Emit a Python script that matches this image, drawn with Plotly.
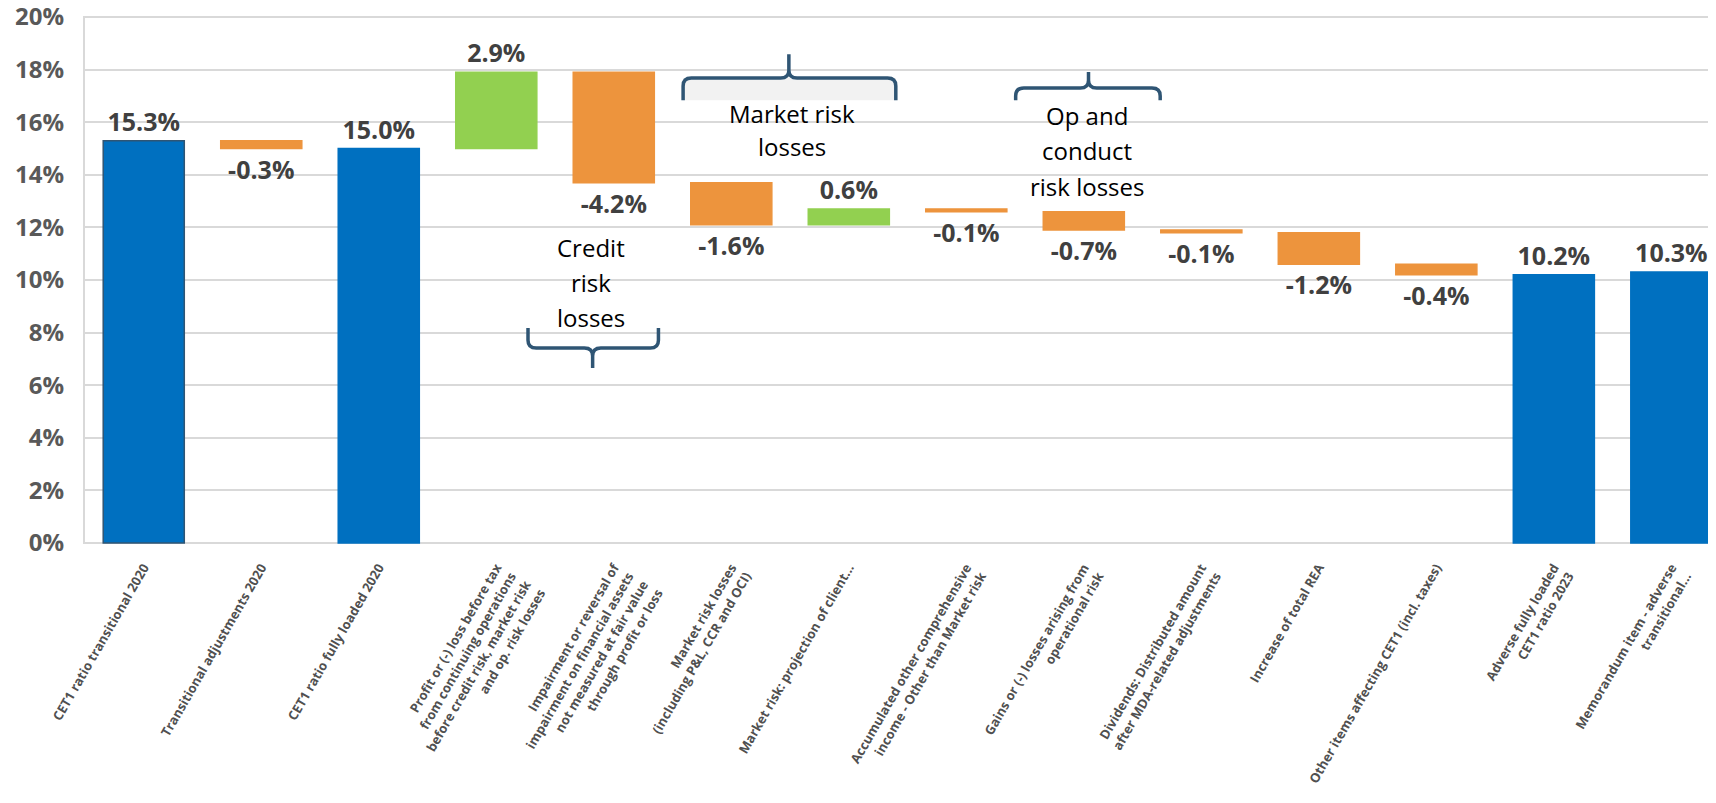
import plotly.graph_objects as go

categories = [
    "CET1 ratio transitional 2020",
    "Transitional adjustments 2020",
    "CET1 ratio fully loaded 2020",
    "Profit or (-) loss before tax<br>from continuing operations<br>before credit risk, market risk<br>and op. risk losses",
    "Impairment or reversal of<br>impairment on financial assets<br>not measured at fair value<br>through profit or loss",
    "Market risk losses<br>(including P&L, CCR and OCI)",
    "Market risk: projection of client...",
    "Accumulated other comprehensive<br>income - Other than Market risk",
    "Gains or (-) losses arising from<br>operational risk",
    "Dividends: Distributed amount<br>after MDA-related adjustments",
    "Increase of total REA",
    "Other items affecting CET1 (incl. taxes)",
    "Adverse fully loaded<br>CET1 ratio 2023",
    "Memorandum item - adverse<br>transitional...",
]
values = [15.3, -0.3, 15.0, 2.9, -4.2, -1.6, 0.6, -0.1, -0.7, -0.1, -1.2, -0.4, 10.2, 10.3]
measures = ["total", "delta", "total", "delta", "delta", "delta", "delta",
            "delta", "delta", "delta", "delta", "delta", "total", "total"]

BLUE = "#0070C0"
ORANGE = "#ED943D"
GREEN = "#92D050"
FONT = "Open Sans"

# waterfall: totals start at zero, deltas float on the running level
bases, colors = [], []
level = 0
for v, m in zip(values, measures):
    if m == "total":
        bases.append(0)
        colors.append(BLUE)
        level = v
    else:
        bases.append(level)
        colors.append(GREEN if v > 0 else ORANGE)
        level += v
labels = ["%.1f%%" % v for v in values]
xs = list(range(len(categories)))
edges = ["#2F5574" if i == 0 else c for i, c in enumerate(colors)]

fig = go.Figure(go.Bar(
    x=xs, y=values, base=bases, width=0.69,
    marker=dict(color=colors, line=dict(color=edges, width=1.5)),
    text=labels, textposition="outside", constraintext="none", cliponaxis=False,
    textfont=dict(family=FONT, size=25, color="#404040", weight="bold"),
    hoverinfo="skip",
))


def brace(x0, x1, xt, y_end, y_line, y_tip, c=0.07, ry=0.3):
    s = 1 if y_tip > y_line else -1
    return (f"M {x0},{y_end} L {x0},{y_line - s*ry} Q {x0},{y_line} {x0 + c},{y_line} "
            f"L {xt - c},{y_line} Q {xt},{y_line} {xt},{y_line + s*ry} L {xt},{y_tip} "
            f"M {xt},{y_line + s*ry} Q {xt},{y_line} {xt + c},{y_line} "
            f"L {x1 - c},{y_line} Q {x1},{y_line} {x1},{y_line - s*ry} L {x1},{y_end}")


BRACE = "#2F5574"
fig.add_shape(type="rect", x0=4.59, x1=6.40, y0=16.84, y1=17.68,
              fillcolor="#F2F2F2", line_width=0, layer="below")
for p in [brace(4.59, 6.40, 5.49, 16.84, 17.68, 18.59),
          brace(7.42, 8.65, 8.04, 16.84, 17.30, 17.91),
          brace(3.27, 4.38, 3.82, 8.17, 7.41, 6.65)]:
    fig.add_shape(type="path", path=p, line=dict(color=BRACE, width=3.5))

# group notes, one annotation per line for Excel-like line spacing
notes = [(["Market risk", "losses"], 5.52, [16.35, 15.06]),
         (["Op and", "conduct", "risk losses"], 8.03, [16.27, 14.94, 13.57]),
         (["Credit", "risk", "losses"], 3.81, [11.22, 9.89, 8.56])]
for lines, x, ys in notes:
    for txt, y in zip(lines, ys):
        fig.add_annotation(x=x, y=y, text=txt, showarrow=False,
                           font=dict(family=FONT, size=24, color="#000000"))

fig.update_layout(
    width=1708, height=795,
    margin=dict(l=77, r=0, t=8, b=259),
    paper_bgcolor="white", plot_bgcolor="white",
    showlegend=False,
    font=dict(family=FONT),
    xaxis=dict(range=[-0.5, 13.38], tickvals=xs, ticktext=categories,
               tickangle=-60, showgrid=False, zeroline=False, automargin=False,
               ticks="outside", ticklen=10, tickcolor="rgba(0,0,0,0)",
               tickfont=dict(family=FONT, size=13, color="#505050", weight="bold")),
    yaxis=dict(range=[-0.04, 20.04], tick0=0, dtick=2, ticksuffix="%",
               showgrid=True, gridcolor="#D9D9D9", gridwidth=2, automargin=False,
               showline=True, linecolor="#D9D9D9", linewidth=2, zeroline=False,
               ticks="outside", ticklen=14, tickcolor="rgba(0,0,0,0)",
               ticklabeloverflow="allow",
               tickfont=dict(family=FONT, size=24, color="#595959", weight="bold")),
)

fig.write_html("out.html")
